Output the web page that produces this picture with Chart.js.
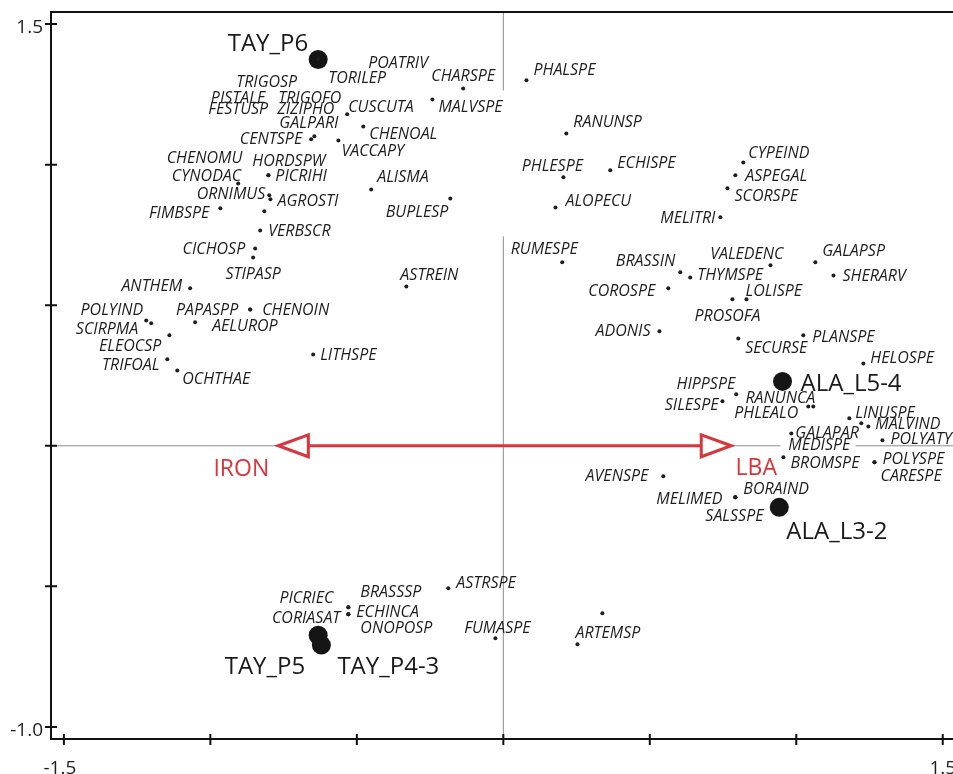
<!DOCTYPE html>
<html>
<head>
<meta charset="utf-8">
<script src="https://cdn.jsdelivr.net/npm/chart.js@4.4.1/dist/chart.umd.min.js"></script>
<style>
    body { margin: 0; background: #fff; }
    canvas { display: block; }
</style>
</head>
<body>
<canvas id="ordChart" width="953" height="774"></canvas>
<script>
// species scores (axis 1, axis 2)
const speciesNames = [
    "TRIGOSP", "PISTALE", "FESTUSP", "TRIGOFO", "ZIZIPHO", "POATRIV", "TORILEP", "GALPARI", "CENTSPE", "VACCAPY",
    "CUSCUTA", "CHENOAL", "ALISMA", "BUPLESP", "CHARSPE", "MALVSPE", "PHALSPE", "RANUNSP", "PHLESPE", "ECHISPE",
    "ALOPECU", "RUMESPE", "CHENOMU", "HORDSPW", "PICRIHI", "CYNODAC", "ORNIMUS", "AGROSTI", "FIMBSPE", "VERBSCR",
    "CICHOSP", "STIPASP", "ANTHEM", "POLYIND", "SCIRPMA", "ELEOCSP", "TRIFOAL", "OCHTHAE", "PAPASPP", "CHENOIN",
    "AELUROP", "LITHSPE", "ASTREIN", "CYPEIND", "ASPEGAL", "SCORSPE", "MELITRI", "BRASSIN", "THYMSPE", "VALEDENC",
    "GALAPSP", "SHERARV", "COROSPE", "LOLISPE", "PROSOFA", "ADONIS", "SECURSE", "PLANSPE", "HELOSPE", "HIPPSPE",
    "SILESPE", "RANUNCA", "PHLEALO", "LINUSPE", "MEDISPE", "MALVIND", "POLYATY", "GALAPAR", "BROMSPE", "POLYSPE",
    "CARESPE", "AVENSPE", "BORAIND", "MELIMED", "SALSSPE", "PICRIEC", "CORIASAT", "BRASSSP", "ECHINCA", "ONOPOSP",
    "ASTRSPE", "FUMASPE", "ARTEMSP", ""
];
const speciesX = [
    -0.632, -0.632, -0.632, -0.632, -0.632, -0.632, -0.632, -0.645, -0.656, -0.563,
    -0.533, -0.478, -0.451, -0.181, -0.137, -0.242, 0.079, 0.215, 0.205, 0.365,
    0.178, 0.201, -0.816, -0.802, -0.802, -0.905, -0.799, -0.795, -0.966, -0.830,
    -0.847, -0.854, -1.069, -1.219, -1.202, -1.140, -1.147, -1.113, -0.864, -0.864,
    -1.052, -0.649, -0.331, 0.819, 0.792, 0.765, 0.741, 0.604, 0.638, 0.912,
    1.065, 1.127, 0.563, 0.830, 0.782, 0.533, 0.802, 1.024, 1.229, 0.795,
    0.748, 1.041, 1.058, 1.181, 1.222, 1.246, 1.294, 0.983, 0.956, 1.267,
    1.267, 0.546, 0.792, 0.792, 0.792, -0.529, -0.529, -0.529, -0.529, -0.529,
    -0.188, -0.027, 0.253, 0.338
];
const speciesY = [
    1.374, 1.374, 1.374, 1.374, 1.374, 1.374, 1.374, 1.101, 1.090, 1.086,
    1.179, 1.136, 0.912, 0.880, 1.271, 1.232, 1.300, 1.111, 0.955, 0.980,
    0.848, 0.653, 0.834, 0.962, 0.962, 0.933, 0.891, 0.877, 0.845, 0.766,
    0.702, 0.670, 0.560, 0.446, 0.436, 0.393, 0.308, 0.268, 0.485, 0.485,
    0.439, 0.325, 0.567, 1.008, 0.962, 0.916, 0.813, 0.617, 0.599, 0.642,
    0.653, 0.606, 0.560, 0.521, 0.521, 0.407, 0.382, 0.393, 0.293, 0.183,
    0.158, 0.140, 0.140, 0.098, 0.080, 0.069, 0.020, 0.044, -0.041, -0.059,
    -0.059, -0.108, -0.183, -0.183, -0.183, -0.574, -0.599, -0.574, -0.599, -0.599,
    -0.507, -0.685, -0.706, -0.596
];

// sample scores
const siteNames = ["TAY_P6", "ALA_L5-4", "ALA_L3-2", "TAY_P5", "TAY_P4-3"];
const siteX = [-0.632, 0.953, 0.942, -0.632, -0.621];
const siteY = [1.374, 0.229, -0.219, -0.674, -0.709];

// environmental gradient arrow (tips on axis 1)
const gradientNames = ["IRON", "LBA"];
const gradientX = [-0.768, 0.778];

const xTicks = [-1.5, -1.0, -0.5, 0, 0.5, 1.0, 1.5];
const xTickLabels = ["-1.5", "", "", "", "", "", "1.5"];
const yTicks = [-1.0, -0.5, 0, 0.5, 1.0, 1.5];
const yTickLabels = ["-1.0", "", "", "", "", "1.5"];

// label placement (px from the point): align, dx, dy
const speciesAlign = [
    "r", "r", "r", "l", "l", "l", "l", "l", "r", "l",
    "l", "l", "l", "r", "c", "l", "l", "l", "c", "l",
    "l", "c", "r", "l", "l", "r", "r", "l", "r", "l",
    "r", "c", "r", "r", "r", "r", "r", "l", "r", "l",
    "l", "l", "l", "l", "l", "l", "r", "r", "l", "r",
    "l", "l", "r", "l", "c", "r", "l", "l", "l", "r",
    "r", "r", "r", "l", "r", "l", "l", "l", "l", "l",
    "l", "r", "l", "r", "l", "r", "r", "l", "l", "l",
    "l", "c", "l", "l"
];
const speciesDx = [
    -21, -53, -50, -40, -41, 50, 10, -35, -9, 3,
    1, 6, 6, -2, 0, 6, 7, 7, -11, 7,
    10, -18, -22, -16, 7, 3, -4, 7, -11, 8,
    -10, 0, -8, -3, -13, -8, -8, 5, -12, 12,
    17, 7, -6, 5, 10, 7, -5, -5, 7, 13,
    7, 9, -13, -1, -5, -9, 7, 9, 7, -1,
    -4, 7, -15, 6, -11, 7, 8, 4, 7, 8,
    6, -15, 8, -13, -30, -15, -8, 12, 8, 12,
    8, 2, -2, 0
];
const speciesDy = [
    22, 38, 49, 38, 49, 3, 18, -14, -1, 10,
    -8, 7, -13, 13, -13, 7, -11, -12, -12, -8,
    -7, -14, -54, -15, 0, -8, -2, 1, 4, 0,
    0, 16, -3, -11, 5, 10, 5, 8, 0, 0,
    3, 0, -12, -10, 0, 7, 0, -12, -3, -12,
    -12, 0, 2, -9, 16, -1, 9, 1, -6, -11,
    3, -9, 6, -6, 21, -3, -2, -1, 5, -4,
    13, -1, -9, 1, 18, -10, 3, -16, -3, 13,
    -6, -11, -12, 0
];
const siteAlign = ["r", "l", "l", "r", "l"];
const siteDx = [-10, 18, 7, -13, 16];
const siteDy = [-17, 1, 23, 30, 20];
const gradientDx = [-37, 25];
const gradientDy = [22, 21];

const vLineGap = [0.745, 1.264];
const hLineGap = [0.946, 1.202];

const RED = "#d8363b";
const INK = "#1e1e1e";

function drawText(ctx, text, x, y, align, font, color, capRatio) {
    ctx.font = font;
    ctx.fillStyle = color;
    ctx.textAlign = align === "r" ? "right" : align === "c" ? "center" : "left";
    ctx.textBaseline = "alphabetic";
    const size = parseFloat(font.match(/(\d+(\.\d+)?)px/)[1]);
    ctx.fillText(text, x, y + size * capRatio / 2);
}

const ordinationPlugin = {
    id: "ordination",
    beforeDatasetsDraw(chart) {
        const ctx = chart.ctx;
        const a = chart.chartArea;
        const xs = chart.scales.x;
        const ys = chart.scales.y;
        const x0 = xs.getPixelForValue(0);
        const y0 = ys.getPixelForValue(0);

        ctx.save();
        // zero lines
        ctx.strokeStyle = "#8c8c8c";
        ctx.lineWidth = 1;
        ctx.beginPath();
        ctx.moveTo(x0, a.top);
        ctx.lineTo(x0, ys.getPixelForValue(vLineGap[1]));
        ctx.moveTo(x0, ys.getPixelForValue(vLineGap[0]));
        ctx.lineTo(x0, a.bottom);
        ctx.moveTo(a.left, y0);
        ctx.lineTo(xs.getPixelForValue(hLineGap[0]), y0);
        ctx.moveTo(xs.getPixelForValue(hLineGap[1]), y0);
        ctx.lineTo(a.right, y0);
        ctx.stroke();

        // gradient arrow
        const tipL = xs.getPixelForValue(gradientX[0]);
        const tipR = xs.getPixelForValue(gradientX[1]);
        const headLen = 30, headHalf = 11;
        ctx.strokeStyle = RED;
        ctx.lineWidth = 3;
        ctx.beginPath();
        ctx.moveTo(tipL + headLen, y0);
        ctx.lineTo(tipR - headLen, y0);
        ctx.stroke();
        [[tipL, 1], [tipR, -1]].forEach(([tip, dir]) => {
            ctx.beginPath();
            ctx.moveTo(tip, y0);
            ctx.lineTo(tip + dir * headLen, y0 - headHalf);
            ctx.lineTo(tip + dir * headLen, y0 + headHalf);
            ctx.closePath();
            ctx.fillStyle = "#fff";
            ctx.fill();
            ctx.lineJoin = "miter";
            ctx.stroke();
        });
        gradientNames.forEach((name, i) => {
            const tip = xs.getPixelForValue(gradientX[i]);
            drawText(ctx, name, tip + gradientDx[i], y0 + gradientDy[i], "c", "23px 'Open Sans'", RED, 0.714);
        });
        ctx.restore();
    },
    afterDatasetsDraw(chart) {
        const ctx = chart.ctx;
        ctx.save();
        const spMeta = chart.getDatasetMeta(0);
        spMeta.data.forEach((pt, i) => {
            if (!speciesNames[i]) return;
            drawText(ctx, speciesNames[i], pt.x + speciesDx[i], pt.y + speciesDy[i],
                speciesAlign[i], "italic 16px 'Open Sans'", INK, 0.714);
        });
        const siteMeta = chart.getDatasetMeta(1);
        siteMeta.data.forEach((pt, i) => {
            drawText(ctx, siteNames[i], pt.x + siteDx[i], pt.y + siteDy[i],
                siteAlign[i], "24px 'Open Sans'", "#1a1a1a", 0.714);
        });
        ctx.restore();
    },
    afterDraw(chart) {
        const ctx = chart.ctx;
        const a = chart.chartArea;
        const xs = chart.scales.x;
        const ys = chart.scales.y;
        ctx.save();
        ctx.strokeStyle = "#111";
        ctx.lineWidth = 2;
        ctx.beginPath();
        // frame: left axis, bottom axis, top line
        ctx.moveTo(a.left, a.top);
        ctx.lineTo(a.right, a.top);
        ctx.moveTo(a.left, a.top - 1);
        ctx.lineTo(a.left, a.bottom + 1);
        ctx.moveTo(a.left - 1, a.bottom);
        ctx.lineTo(a.right, a.bottom);
        xTicks.forEach((v) => {
            const px = xs.getPixelForValue(v);
            ctx.moveTo(px, a.bottom - 5);
            ctx.lineTo(px, a.bottom + 6);
        });
        yTicks.forEach((v) => {
            const py = ys.getPixelForValue(v);
            ctx.moveTo(a.left - 6, py);
            ctx.lineTo(a.left + 6, py);
        });
        ctx.stroke();
        xTicks.forEach((v, i) => {
            if (!xTickLabels[i]) return;
            drawText(ctx, xTickLabels[i], xs.getPixelForValue(v) - (v < 0 ? 4 : 0), a.bottom + 28, "c", "19px 'Open Sans'", INK, 0.714);
        });
        yTicks.forEach((v, i) => {
            if (!yTickLabels[i]) return;
            drawText(ctx, yTickLabels[i], a.left - 8, ys.getPixelForValue(v) + 2, "r", "19px 'Open Sans'", INK, 0.714);
        });
        ctx.restore();
    }
};

const ctx = document.getElementById("ordChart").getContext("2d");

new Chart(ctx, {
    type: "scatter",
    data: {
        datasets: [
            {
                label: "Species",
                data: speciesX.map((x, i) => ({ x: x, y: speciesY[i] })),
                pointRadius: 2,
                pointBackgroundColor: INK,
                pointBorderWidth: 0,
                pointHoverRadius: 2
            },
            {
                label: "Samples",
                data: siteX.map((x, i) => ({ x: x, y: siteY[i] })),
                pointRadius: 9.5,
                pointBackgroundColor: "#151515",
                pointBorderWidth: 0,
                pointHoverRadius: 9.5
            }
        ]
    },
    options: {
        responsive: false,
        animation: false,
        devicePixelRatio: 1,
        layout: {
            autoPadding: false,
            padding: { left: 51, top: 12, right: 0, bottom: 35 }
        },
        plugins: {
            legend: { display: false },
            tooltip: { enabled: false }
        },
        scales: {
            x: {
                type: "linear",
                display: false,
                bounds: "data",
                min: -1.544,
                max: 1.535
            },
            y: {
                type: "linear",
                display: false,
                bounds: "data",
                min: -1.043,
                max: 1.543
            }
        }
    },
    plugins: [ordinationPlugin]
});
</script>
</body>
</html>
